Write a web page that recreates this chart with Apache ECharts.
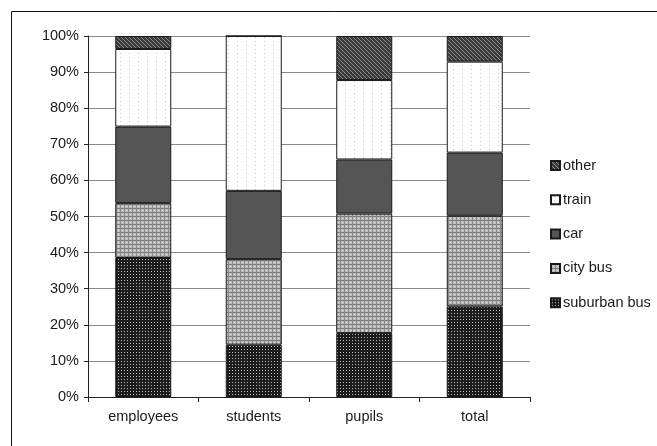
<!DOCTYPE html>
<html><head><meta charset="utf-8">
<script src="https://cdn.jsdelivr.net/npm/echarts@6/dist/echarts.min.js"></script>
<style>html,body{margin:0;padding:0;background:#fff}#c{width:657px;height:446px}</style>
</head><body><div id="c"></div>
<script>
const categories = ['employees', 'students', 'pupils', 'total'];
const seriesNames = ['suburban bus', 'city bus', 'car', 'train', 'other'];
const suburbanBus = [38.5, 14.5, 17.7, 25.1];
const cityBus = [15.2, 23.7, 33.1, 25.1];
const car = [21.2, 18.9, 15.0, 17.5];
const train = [21.5, 42.9, 22.0, 25.2];
const other = [3.6, 0, 12.2, 7.1];
const yTicks = [0, 10, 20, 30, 40, 50, 60, 70, 80, 90, 100];

function pat(w, h, bg, dots) {
  const c = document.createElement('canvas');
  c.width = w; c.height = h;
  const x = c.getContext('2d');
  x.fillStyle = bg; x.fillRect(0, 0, w, h);
  dots.forEach(d => { x.fillStyle = d[2]; x.fillRect(d[0], d[1], d[3] || 1, d[4] || 1); });
  return { image: c, repeat: 'repeat' };
}
const fills = [
  pat(3, 3, '#1c1c1c', [[1, 1, '#bdbdbd']]),
  pat(4, 4, '#bcbcbc', [[0, 0, '#7c7c7c', 4, 1], [0, 0, '#8a8a8a', 1, 4], [2, 2, '#e0e0e0']]),
  '#555555',
  pat(9, 4, '#ffffff', [[3, 1, '#c4c4c4']]),
  pat(4, 4, '#3a3a3a', [[0, 0, '#8a8a8a'], [1, 1, '#8a8a8a'], [2, 2, '#8a8a8a'], [3, 3, '#8a8a8a']])
];
const dataArr = [suburbanBus, cityBus, car, train, other];

const chart = echarts.init(document.getElementById('c'), null, { renderer: 'canvas' });
const font = 'Liberation Sans, Arial, sans-serif';
chart.setOption({
  animation: false,
  graphic: [{ type: 'rect', left: 9, top: 9, shape: { width: 700, height: 500 }, style: { fill: 'none', stroke: '#111', lineWidth: 1 } }],
  grid: { left: 88, right: 127, top: 36, bottom: 49 },
  legend: {
    orient: 'vertical', left: 545, top: 153,
    data: seriesNames.slice().reverse(),
    icon: 'rect', itemWidth: 9, itemHeight: 9, itemGap: 19.3,
    textStyle: { fontFamily: font, fontSize: 14.5, color: '#1a1a1a', lineHeight: 14, padding: [0, 0, 0, -2] }
  },
  xAxis: {
    type: 'category', data: categories,
    axisLine: { lineStyle: { color: '#222', width: 1 } },
    axisTick: { show: true, length: 5, lineStyle: { color: '#222' } },
    axisLabel: { fontFamily: font, fontSize: 14.5, color: '#1a1a1a', margin: 12 }
  },
  yAxis: {
    type: 'value', min: yTicks[0], max: yTicks[yTicks.length - 1], interval: 10,
    axisLine: { show: true, lineStyle: { color: '#222', width: 1 } },
    axisTick: { show: true, length: 4, lineStyle: { color: '#222' } },
    axisLabel: { formatter: '{value}%', fontFamily: font, fontSize: 14.5, color: '#1a1a1a', margin: 9 },
    splitLine: { lineStyle: { color: '#8a8a8a', width: 1.2 } }
  },
  series: seriesNames.map((n, i) => ({
    name: n, type: 'bar', stack: 's', barWidth: 56,
    data: dataArr[i],
    itemStyle: { color: fills[i], borderColor: '#1a1a1a', borderWidth: 1 }
  }))
});
</script></body></html>
